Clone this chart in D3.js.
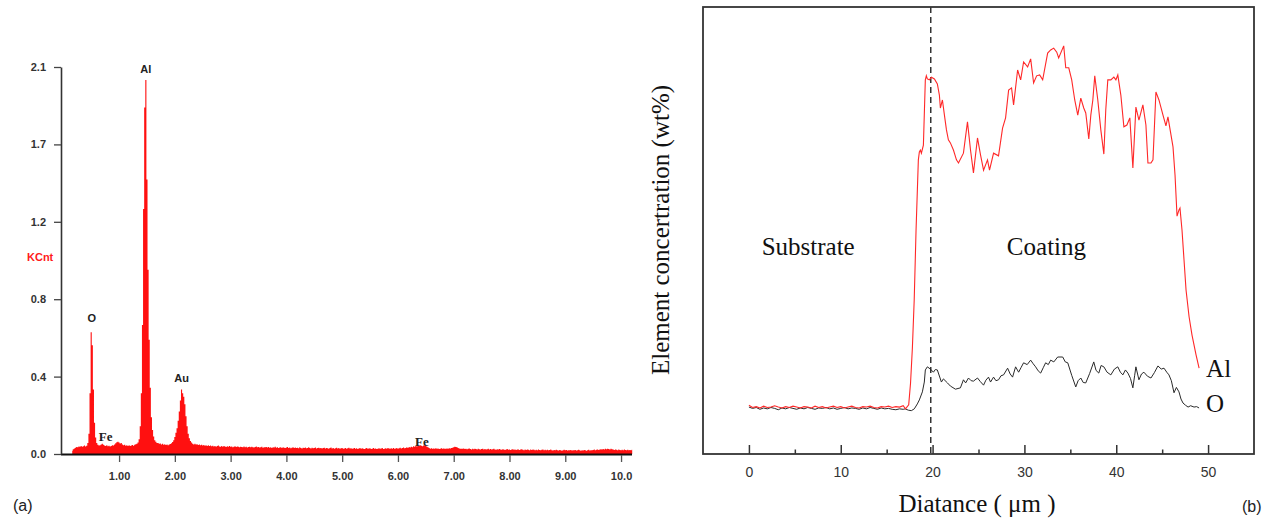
<!DOCTYPE html>
<html>
<head>
<meta charset="utf-8">
<script src="https://cdn.jsdelivr.net/npm/d3@7"></script>
<style>
  html, body { margin: 0; padding: 0; background: #fff; }
  svg { display: block; }
</style>
</head>
<body>
<svg id="fig" width="1276" height="520"></svg>
<script>
// ---------- (a) EDS spectrum ----------
// counts per 0.02 keV channel, starting at 0.16 keV (1 KCnt = 1000 counts)
const spectrumStartKeV = 0.16;
const channelKeV = 0.02;
const spectrumCounts = [
  18,26,30,34,38,36,41,39,44,40,42,46,41,45,60,110,330,660,590,350,170,90,60,50,46,
  48,52,55,50,46,43,47,42,45,41,44,48,46,52,58,64,66,62,57,60,52,47,50,45,48,
  44,47,43,46,49,45,50,53,56,62,80,150,330,700,1330,1880,2030,1490,1000,620,360,200,130,95,75,
  66,60,60,55,57,52,55,50,53,49,52,48,51,54,58,65,75,92,115,140,180,230,290,350,330,
  310,270,205,150,110,85,70,62,55,52,56,51,53,49,52,47,50,46,49,45,48,44,47,43,46,
  42,45,41,44,40,43,46,41,39,43,40,44,41,38,42,40,43,39,41,37,40,42,38,41,39,
  37,40,38,36,41,37,39,35,38,40,36,39,37,35,38,41,36,38,35,37,39,34,37,36,38,
  35,38,34,36,33,37,35,39,34,36,32,35,37,33,36,34,32,35,38,33,35,31,34,36,33,
  35,32,34,31,36,33,30,34,32,35,31,33,36,32,30,34,31,33,35,30,32,34,31,33,30,
  32,34,30,33,31,29,33,35,30,32,28,31,34,30,32,29,31,33,28,30,32,29,31,34,30,
  31,28,30,33,29,31,27,30,32,28,31,29,27,30,33,28,30,31,27,29,32,28,30,27,29,
  31,28,30,32,27,29,31,28,33,30,28,31,29,32,28,30,33,29,31,34,30,32,35,31,33,
  36,33,38,35,40,37,42,39,44,41,46,43,47,45,42,46,48,44,40,36,32,29,31,28,30,
  29,31,28,30,27,29,31,28,30,29,28,30,29,31,30,32,34,37,39,38,36,33,30,28,29,
  28,30,27,29,26,28,30,27,25,28,26,29,27,25,28,26,24,27,29,25,27,24,26,28,25,
  27,24,26,28,25,23,26,24,27,25,23,26,24,22,25,27,23,25,22,24,26,23,25,22,24,
  25,22,24,26,23,21,24,22,25,23,21,24,22,25,23,20,23,21,24,22,20,23,25,21,23,
  21,23,20,22,24,21,19,22,20,23,21,19,22,20,18,21,23,20,22,19,21,20,22,19,21,
  20,22,19,21,23,20,18,21,19,22,20,18,21,23,19,21,20,22,24,21,23,25,22,24,26,
  24,27,25,28,26,29,27,25,28,26,24,22,25,23,21,24,22,20,23,21,24,22,20,23,21,
  22,20,23
];
const countTicks = [0, 420, 840, 1260, 1680, 2100];
const countTickLabels = ["0.0", "0.4", "0.8", "1.2", "1.7", "2.1"];
const keVTicks = [1, 2, 3, 4, 5, 6, 7, 8, 9, 10];
const keVTickLabels = ["1.00", "2.00", "3.00", "4.00", "5.00", "6.00", "7.00", "8.00", "9.00", "10.0"];
const peakNames = ["O", "Fe", "Al", "Au", "Fe"];
const peakKeV = [0.51, 0.76, 1.48, 2.12, 6.43];

// ---------- (b) line scan across the coating ----------
const substrateUm = [0,0.4,0.8,1.2,1.6,2,2.4,2.8,3.2,3.6,4,4.4,4.8,5.2,5.6,6,6.4,6.8,7.2,7.6,8,8.4,8.8,9.2,9.6,10,
  10.4,10.8,11.2,11.6,12,12.4,12.8,13.2,13.6,14,14.4,14.8,15.2,15.6,16,16.4,16.8];
const alSubstrate = [10.9,10.4,10.6,10.3,10.7,10.4,10.5,10.8,10.5,10.3,10.6,10.4,10.7,10.5,10.3,10.6,10.5,10.3,10.7,10.4,
  10.6,10.3,10.5,10.7,10.4,10.6,10.3,10.5,10.7,10.4,10.3,10.6,10.5,10.7,10.4,10.3,10.6,10.5,10.7,10.4,10.6,10.5,10.8];
const oSubstrate = [10.5,10.2,10.4,10.0,10.3,10.1,10.4,10.2,9.9,10.3,10.1,10.4,10.2,10.0,10.3,10.1,10.4,10.2,10.0,10.3,
  10.2,10.4,10.1,10.3,10.0,10.2,10.4,10.1,10.3,10.2,10.0,10.3,10.1,10.4,10.2,10.0,10.3,10.1,10.2,10.0,9.9,10.1,10.0];

const alCoatUm = [17.05,17.4,17.6,17.8,18.0,18.2,18.45,18.56,18.67,18.78,19.0,19.21,19.32,19.43,19.65,19.87,20.2,20.52,
  20.74,20.85,21.07,21.29,21.51,21.72,21.94,22.27,22.6,22.82,23.36,23.8,24.13,24.45,24.89,25.22,25.55,25.98,26.2,26.64,
  27.18,27.62,27.95,28.28,28.6,28.82,29.26,29.59,29.91,30.35,30.68,31.0,31.33,31.66,31.99,32.53,32.86,33.19,33.52,33.73,
  34.28,34.5,34.83,35.15,35.48,35.81,36.14,36.46,36.68,37.01,37.23,37.45,37.66,37.99,38.32,38.65,38.86,39.08,39.41,39.74,
  39.96,40.17,40.5,40.83,41.16,41.48,41.81,42.14,42.47,42.9,43.23,43.45,43.78,44.0,44.32,44.65,45.09,45.41,45.63,45.96,
  46.18,46.4,46.62,46.83,46.94,47.16,47.38,47.6,47.93,48.25,48.69,49.02];
const alCoat = [10.1,11.0,15.9,23.7,34.5,50.1,65.8,67.6,68.0,67.3,69.1,83.7,84.6,83.9,83.7,84.3,83.9,82.8,
  80.3,77.4,79.2,75.8,72.5,70.3,69.6,68.0,65.8,65.1,67.3,74.3,68.0,62.9,70.7,66.9,63.5,65.8,63.5,67.3,
  66.7,72.9,75.2,81.4,81.9,78.1,85.9,83.7,87.7,86.6,88.4,83.0,84.6,84.8,83.7,89.7,90.4,90.8,89.9,88.6,
  91.3,86.4,86.4,83.7,79.2,75.8,79.6,77.4,76.3,70.5,75.8,79.2,84.6,79.2,72.5,67.1,77.0,83.7,83.7,84.3,
  83.7,84.8,80.3,73.2,73.6,75.2,64.0,77.6,74.7,78.1,73.6,65.1,65.1,65.8,81.0,79.2,75.8,73.4,75.4,71.4,
  68.7,62.4,53.2,54.6,55.0,50.1,43.4,36.7,30.7,26.6,22.2,19.2];

const oCoatUm = [17.03,17.36,17.69,18.01,18.34,18.56,18.89,19.1,19.21,19.43,19.76,20.09,20.3,20.52,20.96,21.18,21.62,
  21.94,22.49,23.03,23.36,23.6,23.91,24.2,24.45,24.89,25.2,25.55,25.8,26.09,26.31,26.64,26.9,27.18,27.45,27.73,28.17,
  28.45,28.71,29.04,29.37,29.65,29.91,30.3,30.68,30.95,31.22,31.5,31.77,32.05,32.31,32.6,32.86,33.2,33.62,34.17,34.45,
  34.72,35.15,35.59,35.85,36.14,36.4,36.68,37.1,37.55,37.8,38.1,38.35,38.65,39.0,39.41,39.8,40.17,40.45,40.72,41.0,
  41.27,41.55,41.81,42.0,42.14,42.47,42.75,43.01,43.4,43.78,44.15,44.54,44.9,45.2,45.5,45.74,46.0,46.29,46.55,46.83,
  47.05,47.27,47.55,47.82,48.1,48.47,48.75,49.02];
const oCoat = [10.1,9.8,9.7,10.1,11.2,12.1,13.9,16.1,18.8,19.5,19.0,18.3,18.9,18.8,16.1,16.8,15.9,
  15.2,14.5,14.8,16.6,15.9,17.0,16.4,16.3,17.0,16.2,15.4,16.5,17.2,16.1,17.2,16.4,16.6,17.5,17.7,19.2,
  17.9,17.2,19.5,18.3,19.4,20.4,20.0,21.0,20.2,19.5,18.6,18.1,19.3,20.4,20.0,21.0,20.6,21.7,21.7,20.6,
  20.4,17.6,15.0,16.4,17.0,16.0,15.9,18.0,20.6,18.7,18.1,19.8,19.5,18.3,17.7,19.0,19.5,18.3,17.7,18.8,
  18.1,16.9,14.8,17.5,19.5,16.6,17.9,18.3,17.4,17.0,18.2,19.7,19.0,19.2,18.3,17.7,16.4,13.7,14.9,13.9,
  12.3,11.4,10.9,10.5,10.8,10.5,10.6,10.3];

const distTicks = [0, 10, 20, 30, 40, 50];
const distMinorTicks = [5, 15, 25, 35, 45];
const interfaceUm = 19.8;

// ---------- drawing ----------
const svg = d3.select("#fig");
const sans = "'Liberation Sans', Arial, sans-serif";
const serif = "'Liberation Serif', 'Times New Roman', serif";

// panel (a)
const xL = d3.scaleLinear().domain([0, 10.2]).range([63.3, 632.2]);
const yL = d3.scaleLinear().domain([0, 2100]).range([454, 67]);

const spectrum = spectrumCounts.map((c, i) => ({ e: spectrumStartKeV + i * channelKeV, c }));
const gA = svg.append("g");

gA.append("path")
  .datum(spectrum)
  .attr("fill", "#ff1010")
  .attr("d", d3.area().curve(d3.curveStep)
    .x(d => xL(d.e)).y0(yL(0)).y1(d => yL(d.c)));

// base line and left axis
gA.append("line").attr("x1", 61).attr("x2", 632).attr("y1", 454.5).attr("y2", 454.5)
  .attr("stroke", "#111").attr("stroke-width", 2.2);

const yAxisA = gA.append("g").attr("transform", "translate(61,0)")
  .call(d3.axisLeft(yL).tickValues(countTicks).tickFormat((d, i) => countTickLabels[i])
    .tickSizeInner(7).tickSizeOuter(0).tickPadding(8));
yAxisA.select(".domain").attr("stroke", "#333").attr("stroke-width", 1.6);
yAxisA.selectAll(".tick line").attr("stroke", "#444").attr("stroke-width", 1.3);
yAxisA.selectAll(".tick text").attr("font-family", sans).attr("font-size", 11)
  .attr("font-weight", "bold").attr("fill", "#333");

const xAxisA = gA.append("g").attr("transform", "translate(0,455)")
  .call(d3.axisBottom(xL).tickValues(keVTicks).tickFormat((d, i) => keVTickLabels[i])
    .tickSizeInner(7).tickSizeOuter(0).tickPadding(10));
xAxisA.select(".domain").remove();
xAxisA.selectAll(".tick line").attr("stroke", "#555").attr("stroke-width", 1.3);
xAxisA.selectAll(".tick text").attr("font-family", sans).attr("font-size", 11)
  .attr("font-weight", "bold").attr("fill", "#333");

gA.append("text").attr("x", 27).attr("y", 261).text("KCnt")
  .attr("font-family", sans).attr("font-size", 11).attr("font-weight", "bold").attr("fill", "#ff1a1a");

// element labels above their peaks
const labelGap = [10, 3, 7, 7.5, -1];
peakNames.forEach((name, i) => {
  const near = spectrum.filter(d => Math.abs(d.e - peakKeV[i]) <= 0.07);
  const top = d3.max(near, d => d.c);
  const isFe = name === "Fe";
  gA.append("text")
    .attr("x", xL(peakKeV[i])).attr("y", yL(top) - labelGap[i])
    .attr("text-anchor", "middle")
    .attr("font-family", isFe ? serif : sans)
    .attr("font-size", isFe ? 13 : 11)
    .attr("font-weight", "bold").attr("fill", "#222")
    .text(name);
});

svg.append("text").attr("x", 13).attr("y", 511).text("(a)")
  .attr("font-family", sans).attr("font-size", 16).attr("fill", "#222");

// panel (b)
const xR = d3.scaleLinear().domain([-5, 55]).range([703, 1254]);
const yR = d3.scaleLinear().domain([0, 100]).range([454, 7]);
const gB = svg.append("g");

const alSeries = d3.zip(substrateUm, alSubstrate).concat(d3.zip(alCoatUm, alCoat));
const oSeries = d3.zip(substrateUm, oSubstrate).concat(d3.zip(oCoatUm, oCoat));
const line = d3.line().x(d => xR(d[0])).y(d => yR(d[1]));

gB.append("line").attr("x1", xR(interfaceUm)).attr("x2", xR(interfaceUm))
  .attr("y1", 7).attr("y2", 454)
  .attr("stroke", "#333").attr("stroke-width", 1.5).attr("stroke-dasharray", "6,4");

gB.append("path").datum(oSeries).attr("d", line)
  .attr("fill", "none").attr("stroke", "#2a2a2a").attr("stroke-width", 1);
gB.append("path").datum(alSeries).attr("d", line)
  .attr("fill", "none").attr("stroke", "#ff2828").attr("stroke-width", 1.1);

gB.append("rect").attr("x", 703).attr("y", 7).attr("width", 551).attr("height", 447)
  .attr("fill", "none").attr("stroke", "#333").attr("stroke-width", 1.8);

const xAxisB = gB.append("g").attr("transform", "translate(0,454)")
  .call(d3.axisBottom(xR).tickValues(distTicks).tickSizeInner(-9).tickSizeOuter(0).tickPadding(13));
xAxisB.select(".domain").remove();
xAxisB.selectAll(".tick line").attr("stroke", "#333").attr("stroke-width", 1.5);
xAxisB.selectAll(".tick text").attr("font-family", sans).attr("font-size", 14).attr("fill", "#333");

const minorB = gB.append("g").attr("transform", "translate(0,454)")
  .call(d3.axisBottom(xR).tickValues(distMinorTicks).tickSizeInner(-4.5).tickSizeOuter(0).tickFormat(""));
minorB.select(".domain").remove();
minorB.selectAll(".tick line").attr("stroke", "#333").attr("stroke-width", 1.5);

gB.append("text").attr("x", 977).attr("y", 512).attr("text-anchor", "middle")
  .attr("font-family", serif).attr("font-size", 25).attr("fill", "#111")
  .text("Diatance ( μm )");

gB.append("text").attr("transform", "translate(669,230) rotate(-90)").attr("text-anchor", "middle")
  .attr("font-family", serif).attr("font-size", 25).attr("fill", "#111")
  .text("Element concertration (wt%)");

gB.append("text").attr("x", xR(6.45)).attr("y", yR(44.5)).attr("text-anchor", "middle")
  .attr("font-family", serif).attr("font-size", 25).attr("fill", "#111").text("Substrate");
gB.append("text").attr("x", xR(32.4)).attr("y", yR(44.5)).attr("text-anchor", "middle")
  .attr("font-family", serif).attr("font-size", 25).attr("fill", "#111").text("Coating");

const alEnd = alSeries[alSeries.length - 1];
const oEnd = oSeries[oSeries.length - 1];
gB.append("text").attr("x", xR(alEnd[0]) + 7).attr("y", yR(alEnd[1]) + 9)
  .attr("font-family", serif).attr("font-size", 25).attr("fill", "#111").text("Al");
gB.append("text").attr("x", xR(oEnd[0]) + 7).attr("y", yR(oEnd[1]) + 4)
  .attr("font-family", serif).attr("font-size", 25).attr("fill", "#111").text("O");

svg.append("text").attr("x", 1242).attr("y", 512).text("(b)")
  .attr("font-family", sans).attr("font-size", 16).attr("fill", "#222");
</script>
</body>
</html>
